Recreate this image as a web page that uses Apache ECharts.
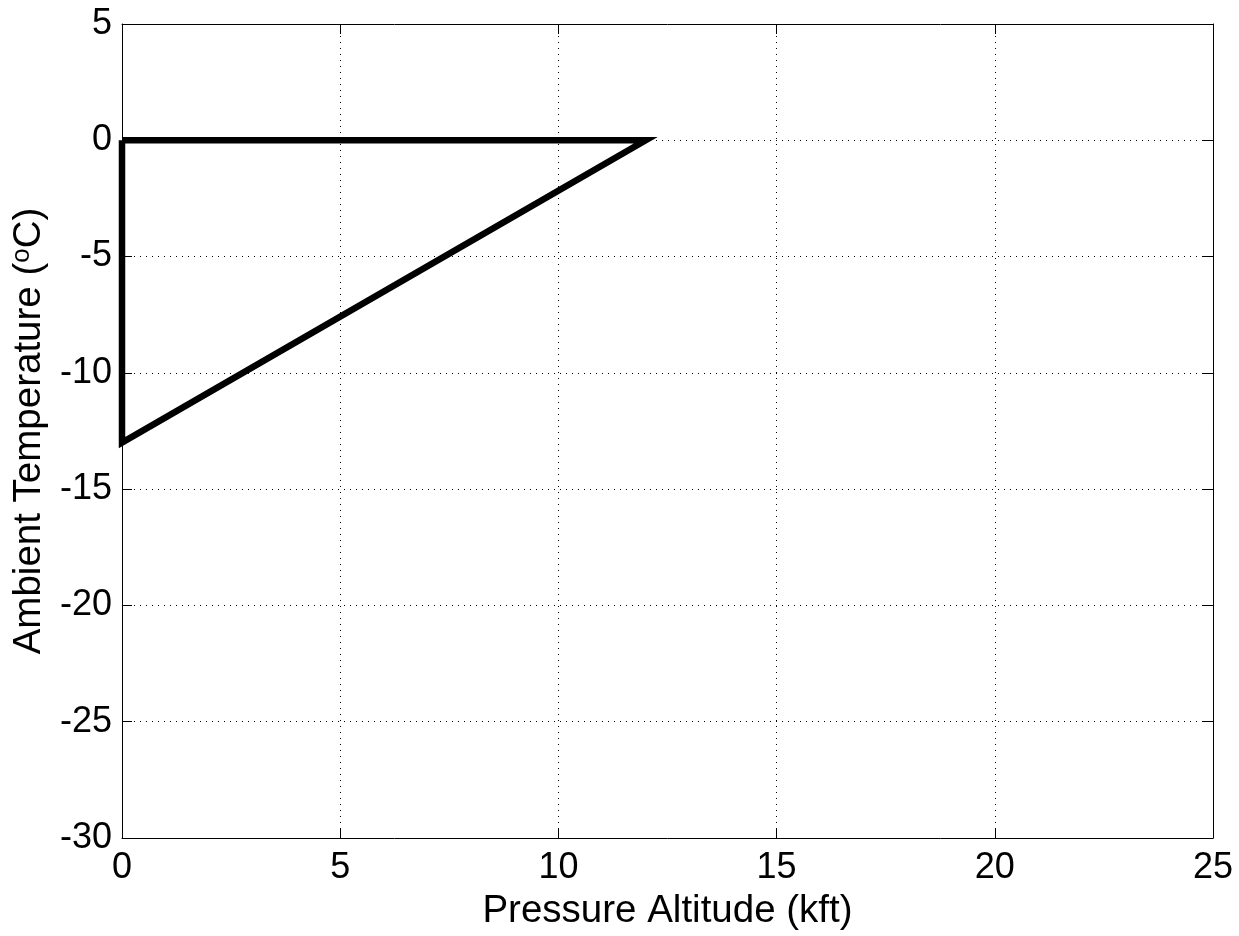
<!DOCTYPE html>
<html>
<head>
<meta charset="utf-8">
<script src="https://cdn.jsdelivr.net/npm/echarts@6/dist/echarts.min.js"></script>
<style>
html,body{margin:0;padding:0;background:#fff;}
#c{width:1239px;height:936px;}
</style>
</head>
<body>
<div id="c"></div>
<script>
// Boundary of the ambient temperature envelope (closed polygon)
const altitudeKft = [0, 12, 0, 0];
const temperatureC = [0, 0, -13, 0];
const xTicks = [0, 5, 10, 15, 20, 25];
const yTicks = [5, 0, -5, -10, -15, -20, -25, -30];

const FONT = 'Liberation Sans, Arial, sans-serif';
const chart = echarts.init(document.getElementById('c'), null, {renderer: 'canvas'});
const pts = altitudeKft.map((x, i) => [x, temperatureC[i]]);

const baseAxis = {
  axisLine: {show: true, onZero: false, lineStyle: {color: '#000', width: 1}},
  axisTick: {show: true, inside: true, length: 10, lineStyle: {color: '#000', width: 1}},
  splitLine: {show: false},
  axisLabel: {show: false}
};

chart.setOption({
  animation: false,
  backgroundColor: '#fff',
  grid: {left: 122, top: 24, right: 26, bottom: 93, containLabel: false},
  xAxis: [
    Object.assign({}, baseAxis, {
      type: 'value', position: 'bottom',
      min: xTicks[0], max: xTicks[xTicks.length - 1], interval: 5,
      name: 'Pressure Altitude (kft)', nameLocation: 'middle', nameGap: 54,
      nameTextStyle: {fontFamily: FONT, fontSize: 38.5, color: '#000'},
      axisLabel: {show: true, margin: 12, fontFamily: FONT, fontSize: 36, color: '#000'},
      splitLine: {show: true, lineStyle: {color: '#000', type: [1, 5], width: 1}}
    }),
    Object.assign({}, baseAxis, {
      type: 'value', position: 'top',
      min: xTicks[0], max: xTicks[xTicks.length - 1], interval: 5
    })
  ],
  yAxis: [
    Object.assign({}, baseAxis, {
      type: 'value', position: 'left',
      min: yTicks[yTicks.length - 1], max: yTicks[0], interval: 5,
      name: '{t|Ambient Temperature (}{s|o}{t|C)}', nameLocation: 'middle', nameGap: 66,
      nameTextStyle: {
        fontFamily: FONT, fontSize: 38.5, color: '#000',
        rich: {
          t: {fontFamily: FONT, fontSize: 38.5, color: '#000'},
          s: {fontFamily: FONT, fontSize: 26, color: '#000', verticalAlign: 'top', padding: [0, 0, 16, 0]}
        }
      },
      axisLabel: {show: true, margin: 10, fontFamily: FONT, fontSize: 36, color: '#000'},
      splitLine: {show: true, lineStyle: {color: '#000', type: [1, 5], width: 1}}
    }),
    Object.assign({}, baseAxis, {
      type: 'value', position: 'right',
      min: yTicks[yTicks.length - 1], max: yTicks[0], interval: 5
    })
  ],
  series: [{
    type: 'line',
    data: pts,
    showSymbol: false,
    symbol: 'none',
    lineStyle: {color: '#000', width: 6.5, join: 'miter'},
    clip: true
  }]
});
</script>
</body>
</html>
